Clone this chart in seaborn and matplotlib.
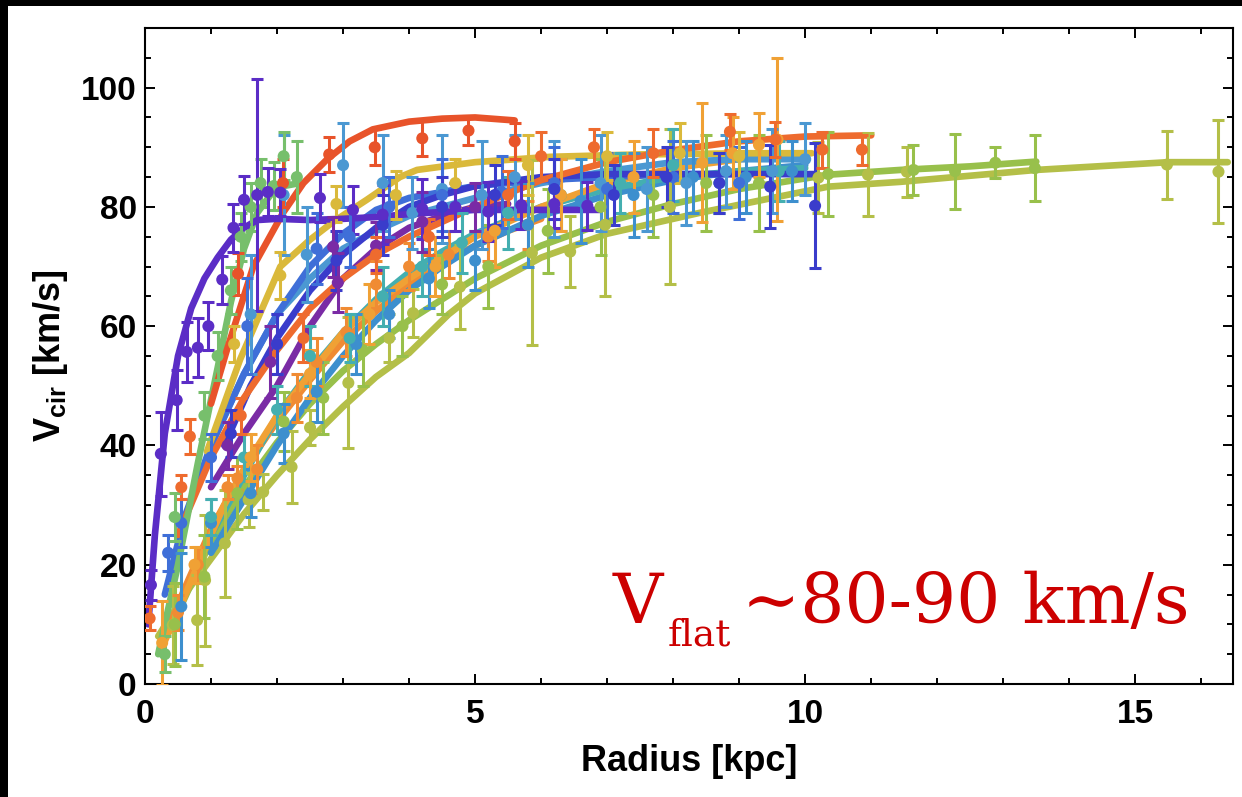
import matplotlib
matplotlib.use("Agg")
import matplotlib.pyplot as plt
from matplotlib.patches import Rectangle
from matplotlib.ticker import MultipleLocator
import seaborn as sns
import pandas as pd

# ---------------- data ----------------
galaxies = ["G01", "G02", "G03", "G04", "G05", "G06", "G07", "G08",
            "G09", "G10", "G11", "G12", "G13", "G14", "G15"]
colors = ["#5B2DC6", "#7A2BA5", "#E8532A", "#EE6B2E", "#DAB93B", "#F0A135",
          "#3F6FD8", "#3A3CCB", "#4B98D2", "#44AFB0", "#3D8FCE", "#77BF6C",
          "#98C04B", "#B4BF48", "#F08B33"]

# points: (radius kpc, Vcir km/s, error)
g01_pts = [(0.09, 16.6, 2.5), (0.24, 38.6, 7), (0.48, 47.6, 5), (0.63, 55.7, 5),
           (0.80, 56.4, 5), (0.96, 60.0, 4), (1.17, 67.8, 4), (1.34, 76.5, 4),
           (1.50, 81.2, 4), (1.70, 82.0, 19.5), (1.86, 82.5, 4), (2.05, 82.4, 4),
           (2.65, 81.5, 4), (3.15, 79.5, 4), (3.6, 78.7, 5), (4.2, 79.7, 5),
           (4.7, 80.0, 4), (5.2, 79.2, 5), (5.7, 80.3, 4), (6.2, 80.5, 4), (6.7, 80.2, 4)]
g01_fit = [(0.05, 10), (0.15, 25), (0.30, 42), (0.50, 55), (0.70, 63), (0.90, 68),
           (1.10, 71.5), (1.30, 74.5), (1.50, 76.5), (1.70, 77.8), (2.0, 78), (2.5, 77.8),
           (3.0, 78), (3.5, 78.3), (4.0, 78.8), (5.0, 79.5), (6.0, 79.5), (6.9, 79.5)]

g02_pts = [(1.25, 40, 4), (1.9, 54, 6), (2.85, 73.3, 5), (2.92, 67.3, 5),
           (3.5, 73.5, 4), (4.2, 77.5, 5), (5.0, 80, 4)]
g02_fit = [(1.0, 33), (1.5, 42), (2.0, 50), (2.5, 60), (3.0, 68), (3.5, 73),
           (4.0, 76.5), (4.5, 78.5), (5.0, 80), (5.5, 80.5)]

g03_pts = [(1.41, 68.8, 3.5), (2.09, 84, 4), (2.79, 88.8, 3), (3.48, 90, 3),
           (4.2, 91.5, 3), (4.9, 92.8, 2.5), (5.6, 91, 3)]
g03_fit = [(1.0, 47), (1.24, 56), (1.64, 70), (2.09, 79), (2.4, 84), (2.76, 88),
           (3.1, 91), (3.45, 93), (4.0, 94.3), (4.5, 94.8), (5.0, 95), (5.6, 94.5)]

g04_pts = [(0.07, 11, 2), (0.55, 33, 2), (0.68, 41.5, 3), (1.45, 45, 3), (2.4, 58, 4),
           (3.5, 72, 3), (4.3, 75, 3), (5.5, 82, 4), (6.0, 88.5, 4), (6.8, 90, 3),
           (7.7, 89, 4), (8.86, 92.6, 3), (9.55, 91.3, 3), (10.26, 89.6, 3), (10.86, 89.6, 2.5)]
g04_fit = [(0.5, 25), (1.0, 38), (1.5, 48), (2.0, 56), (2.5, 63), (3.0, 68), (3.5, 72),
           (4.0, 75), (5.0, 80), (6.0, 84.5), (7.0, 87.5), (8.0, 89.5), (9.0, 91),
           (10.0, 91.8), (11.0, 92)]

g05_pts = [(1.35, 57, 3), (2.05, 68.5, 4), (2.9, 80.5, 3), (3.8, 82, 4), (4.7, 84, 4),
           (5.8, 87, 5), (7.0, 88.5, 4), (8.1, 89, 5), (9.0, 88.5, 4)]
g05_fit = [(0.94, 39), (1.44, 54.4), (2.05, 70), (2.5, 74.5), (2.85, 77.5), (3.36, 81.2),
           (3.86, 85), (4.12, 86.2), (5.0, 87.5), (6.14, 88.4), (7.5, 88.8), (9.17, 89), (10.1, 89)]

g06_pts = [(0.26, 6.9, 7), (0.75, 20, 3), (1.6, 38, 4), (2.5, 52, 4), (3.4, 62, 5),
           (4.4, 70, 5), (5.3, 76, 6), (6.3, 82, 6), (7.4, 85, 6), (8.44, 87.4, 10),
           (8.9, 89, 6), (9.3, 90.4, 5.4), (9.58, 91.3, 13.7)]
g06_fit = [(0.25, 6), (0.5, 12), (0.8, 20), (1.2, 30), (1.6, 38), (2.0, 45), (2.5, 52),
           (3.0, 59), (3.5, 64), (4.0, 68), (5.0, 75), (6.0, 80), (7.0, 84), (8.0, 86.5),
           (9.0, 88), (9.6, 88.5)]

g07_pts = [(0.35, 22, 3), (0.55, 27, 4), (1.0, 38, 4), (1.55, 60, 8), (2.0, 57, 5),
           (2.6, 73, 6), (3.1, 75, 5), (3.7, 80, 5), (4.5, 82, 6), (5.4, 82.5, 6),
           (6.2, 84, 6), (7.0, 83, 6), (8.0, 85, 6), (9.0, 84, 6)]
g07_fit = [(0.3, 15), (0.6, 28), (1.0, 40), (1.5, 52), (2.0, 62), (2.5, 70), (3.0, 75.5),
           (3.5, 79.5), (4.0, 81.5), (5.0, 83.5), (6.0, 84.5), (7.0, 85), (8.0, 85.5), (9.0, 85.5)]

g08_pts = [(1.3, 42, 4), (2.0, 57, 5), (2.9, 71, 5), (3.6, 77, 5), (4.5, 80, 5),
           (5.3, 82, 5), (6.2, 83, 5), (7.1, 82, 5), (7.9, 85, 5), (8.7, 84, 5),
           (9.47, 83.4, 7), (10.15, 80.2, 10.5)]
g08_fit = [(1.2, 40), (1.6, 50), (2.0, 58), (2.5, 66), (3.0, 72), (3.5, 76.5), (4.0, 80),
           (4.5, 82), (5.0, 83.5), (6.0, 85), (7.0, 85.5), (8.0, 85.5), (9.0, 85.5), (10.15, 85.5)]

g09_pts = [(1.6, 62, 10), (2.1, 82, 10), (2.45, 72, 8), (3.0, 87, 7), (3.6, 84, 8),
           (4.05, 79, 6), (4.5, 83, 9), (5.1, 82, 9), (5.6, 85, 7), (6.2, 83, 8),
           (6.9, 84, 8), (7.6, 83, 7), (8.2, 84, 7), (8.8, 86, 6), (9.5, 86, 7), (10.0, 88, 6)]
g09_fit = [(1.0, 40), (1.5, 52), (2.0, 62), (2.5, 68), (3.0, 73), (3.5, 76), (4.0, 78.5),
           (5.0, 81.5), (6.0, 84), (7.0, 86), (8.0, 87.5), (9.0, 88), (10.0, 88)]

g10_pts = [(1.0, 28, 3), (1.5, 38, 4), (2.0, 46, 4), (2.5, 55, 5), (3.1, 58, 4),
           (3.6, 65, 5), (4.2, 70, 5), (4.8, 74, 5), (5.5, 79, 6), (6.3, 82, 6),
           (7.2, 84, 5), (8.0, 87, 6), (8.7, 84, 5), (9.6, 86, 5)]
g10_fit = [(1.0, 25), (1.5, 35), (2.0, 45), (2.5, 52.5), (3.0, 59), (3.5, 64.5), (4.0, 69),
           (4.5, 72.5), (5.0, 75.5), (6.0, 80), (7.0, 83), (8.0, 85), (9.0, 86), (10.0, 86.5)]

g11_pts = [(0.55, 13, 9), (1.0, 27, 4), (1.6, 32, 4), (2.1, 42, 5), (2.6, 49, 5),
           (3.2, 57, 5), (3.7, 62, 4), (4.3, 68, 5), (5.0, 71, 5), (5.8, 77, 7),
           (6.6, 81, 7), (7.4, 82, 7), (8.3, 85, 6), (9.1, 85, 6), (9.8, 86, 5)]
g11_fit = [(1.0, 22), (1.5, 31), (2.0, 40), (2.5, 48), (3.0, 55), (3.5, 61), (4.0, 66),
           (4.5, 70), (5.0, 73.5), (6.0, 78.5), (7.0, 82), (8.0, 84.5), (9.0, 86), (10.0, 87)]

g12_pts = [(0.3, 5, 3), (0.45, 28, 4), (0.9, 45, 4), (1.1, 55, 4), (1.3, 66, 4),
           (1.45, 75, 4), (1.6, 80, 4), (1.75, 84, 4), (1.95, 83.5, 4), (2.1, 88.5, 4),
           (2.3, 85, 6)]
g12_fit = [(0.2, 5), (0.5, 20), (0.8, 37), (1.1, 53), (1.3, 64), (1.5, 73), (1.7, 79),
           (1.9, 82), (2.1, 83.5), (2.35, 84)]

g13_pts = [(0.45, 10, 7), (0.9, 18, 7), (1.4, 32, 6), (2.1, 44, 5), (2.7, 48, 6),
           (3.3, 56, 6), (3.9, 60, 5), (4.5, 67, 5), (5.2, 70, 7), (6.1, 76, 7),
           (6.9, 80, 8), (7.7, 82, 7), (8.5, 84, 8), (9.3, 84, 8), (10.35, 85.5, 7),
           (11.64, 86.2, 4.2), (12.27, 86, 6.3), (12.88, 87.4, 2.6), (13.48, 86.5, 5.5)]
g13_fit = [(0.5, 12), (1.0, 24), (1.5, 33), (2.0, 40.5), (2.5, 47), (3.0, 52.5), (3.5, 57),
           (4.0, 61), (4.5, 64.5), (5.0, 68), (6.0, 73.5), (7.0, 77.5), (8.0, 80.5), (9.0, 83),
           (10.35, 85.4), (11.44, 86.2), (12.5, 86.8), (13.5, 87.6)]

g14_pts = [(0.42, 9.9, 6.5), (0.79, 10.7, 7.5), (0.91, 17.4, 11), (1.21, 23.6, 9),
           (1.57, 30.9, 4.5), (1.79, 32.2, 3), (2.22, 36.4, 6), (2.5, 43, 3), (3.08, 50.5, 11),
           (3.7, 58, 4), (4.06, 62.2, 4), (4.77, 66.6, 7), (5.86, 72.3, 15.5), (6.44, 72.5, 6),
           (6.97, 77, 12), (7.95, 80, 13), (10.2, 84.9, 6), (10.95, 85.4, 7), (11.54, 85.9, 4.2),
           (15.48, 87.1, 5.7), (16.26, 85.9, 8.6)]
g14_fit = [(0.2, 8), (0.6, 15), (1.0, 21), (1.5, 28.5), (2.0, 35), (2.5, 41), (3.0, 46.5),
           (3.5, 51.5), (4.0, 55.5), (4.6, 62), (5.0, 65.5), (6.0, 71.5), (7.0, 75.5),
           (8.4, 79), (9.5, 81.5), (10.35, 83.4), (11.44, 84.2), (13.5, 86.2), (15.5, 87.5), (16.4, 87.5)]

g15_pts = [(0.5, 12, 3), (0.8, 20, 3), (1.25, 33, 2), (1.4, 34.5, 2), (1.7, 36, 4),
           (2.3, 48, 4), (2.6, 54, 4), (3.05, 59, 4), (3.5, 67, 4), (4.0, 70, 4),
           (4.6, 72, 4), (5.2, 75, 4), (5.8, 77, 4)]
g15_fit = [(0.3, 8), (0.6, 16), (1.0, 26), (1.5, 36), (2.0, 44), (2.5, 51), (3.0, 57.5),
           (3.5, 62.5), (4.0, 67), (4.5, 70.5), (5.0, 73.5), (5.5, 76), (6.0, 78)]

x_ticks = [0, 5, 10, 15]
y_ticks = [0, 20, 40, 60, 80, 100]

all_pts = [g01_pts, g02_pts, g03_pts, g04_pts, g05_pts, g06_pts, g07_pts, g08_pts,
           g09_pts, g10_pts, g11_pts, g12_pts, g13_pts, g14_pts, g15_pts]
all_fit = [g01_fit, g02_fit, g03_fit, g04_fit, g05_fit, g06_fit, g07_fit, g08_fit,
           g09_fit, g10_fit, g11_fit, g12_fit, g13_fit, g14_fit, g15_fit]

# ---------------- figure ----------------
sns.set_theme(style="ticks")
plt.rcParams["font.family"] = ["Liberation Sans", "DejaVu Sans"]
plt.rcParams["mathtext.fontset"] = "custom"
plt.rcParams["mathtext.rm"] = "Liberation Sans"
plt.rcParams["mathtext.bf"] = "Liberation Sans:bold"
for k in ["text.color", "axes.labelcolor", "xtick.color", "ytick.color", "axes.edgecolor"]:
    plt.rcParams[k] = "black"

W, H = 1242, 797
fig = plt.figure(figsize=(W / 100, H / 100), dpi=100, facecolor="white")
# black screenshot borders
fig.patches.append(Rectangle((0, 1 - 6 / H), 1, 6 / H, transform=fig.transFigure,
                             facecolor="black", edgecolor="none", zorder=-5))
fig.patches.append(Rectangle((0, 0), 8 / W, 1, transform=fig.transFigure,
                             facecolor="black", edgecolor="none", zorder=-5))

L, R, T, B = 145, 1233, 28, 684
ax = fig.add_axes([L / W, 1 - B / H, (R - L) / W, (B - T) / H])

draw_order = [13, 12, 14, 10, 9, 5, 8, 6, 7, 4, 1, 3, 11, 2, 0]
for i in draw_order:
    name, col = galaxies[i], colors[i]
    fit = pd.DataFrame(all_fit[i], columns=["r", "v"])
    pts = pd.DataFrame(all_pts[i], columns=["r", "v", "e"])
    sns.lineplot(data=fit, x="r", y="v", color=col, lw=4.8, sort=False,
                 estimator=None, ax=ax, solid_capstyle="round", zorder=2)
    ax.errorbar(pts["r"], pts["v"], yerr=pts["e"], fmt="none", ecolor=col,
                elinewidth=2.2, capsize=4.5, capthick=2.2, zorder=3)
    sns.scatterplot(data=pts, x="r", y="v", color=col, s=75, edgecolor="none",
                    ax=ax, zorder=4)

ax.set_xlim(0, 16.48)
ax.set_ylim(0, 110)
ax.set_xticks(x_ticks)
ax.set_yticks(y_ticks)
ax.xaxis.set_minor_locator(MultipleLocator(1))
ax.yaxis.set_minor_locator(MultipleLocator(5))
ax.tick_params(which="both", direction="in", top=True, right=True,
               labeltop=False, labelright=False, color="black", width=1.4)
ax.tick_params(which="major", length=7)
ax.tick_params(which="minor", length=4)
ax.tick_params(axis="x", which="major", pad=11, labelsize=24)
ax.tick_params(axis="y", which="major", pad=6, labelsize=24)
for lab in ax.get_xticklabels() + ax.get_yticklabels():
    lab.set_fontweight("bold")
for sp in ax.spines.values():
    sp.set_color("black")
    sp.set_linewidth(1.5)

ax.set_xlabel("Radius [kpc]", fontsize=26, fontweight="bold", labelpad=10)
ax.set_ylabel(r"V$_{\mathbf{cir}}$ [km/s]", fontsize=26, fontweight="bold", labelpad=8)

# red annotation
red = "#CC0000"
ser = ["DejaVu Serif"]
fig.text(613 / W, 1 - 623 / H, "V", color=red, fontsize=50, family=ser, va="baseline", ha="left")
fig.text(668 / W, 1 - 645 / H, "flat", color=red, fontsize=27, family=ser, va="baseline", ha="left")
fig.text(1190 / W, 1 - 623 / H, "\u223c80-90 km/s", color=red, fontsize=50, family=ser,
         va="baseline", ha="right")

fig.savefig("out.png", dpi=100, facecolor="white")
